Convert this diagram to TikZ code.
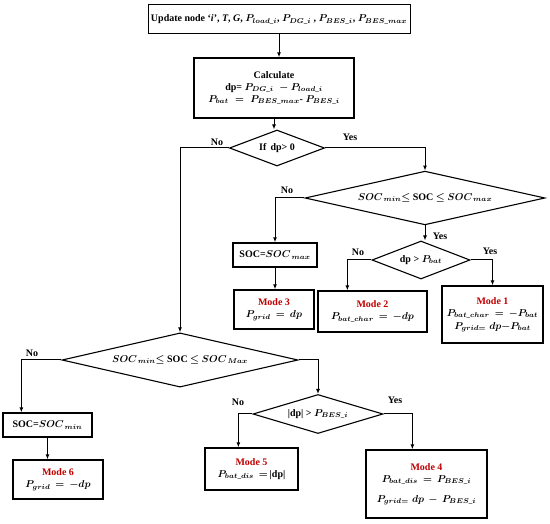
\documentclass[tikz,border=0pt]{standalone}
\usepackage{amsmath,amssymb}
\usepackage{fontspec}
\setmainfont{Liberation Serif}
\usepackage{tikz}
\usetikzlibrary{arrows.meta,positioning,calc,shapes.geometric}
\definecolor{cmode}{RGB}{192,0,0}

\begin{document}
\begin{tikzpicture}[x=1pt,y=-1pt,
    every node/.style={font=\bfseries\fontsize{10}{12}\selectfont\boldmath},
    box/.style={draw, line width=1.3pt, align=center, inner sep=1pt},
    decision/.style={draw, line width=1.1pt, diamond, aspect=3, inner sep=0pt, align=center},
    flow/.style={line width=1pt, -{Latex[length=5pt,width=4pt]}},
    lbl/.style={inner sep=1pt}]
  \useasboundingbox (0,0) rectangle (550,524);

  % top of the chart
  \node[box, line width=1pt, minimum width=262pt, minimum height=29pt] (upd) at (279,19.5)
       {Update node `\textit{i}', \textit{T}, \textit{G}, $P_{load\_i}$, $P_{DG\_i}$ , $P_{BES\_i}$, $P_{BES\_max}$};
  \node[box, minimum width=160pt, minimum height=60pt] (calc) at (274,88)
       {Calculate\\ dp= $P_{DG\_i}\; - P_{load\_i}$\\ $P_{bat}\;=\;P_{BES\_max}$- $P_{BES\_i}$};
  \node[decision, minimum width=95pt, minimum height=36pt] (d1) at (277,148) {If\, dp> 0};

  % charging side
  \node[decision, minimum width=240pt, minimum height=40pt] (d2) at (425,198)
       {$SOC_{\,min}$$\leq$ SOC $\leq$ $SOC_{\,max}$};
  \node[decision, aspect=2.6, minimum width=98pt, minimum height=38pt] (d3) at (421,260) {dp > $P_{bat}$};
  \node[box, minimum width=84pt, minimum height=24pt] (smax) at (275,255) {SOC=$SOC_{\,max}$};
  \node[box, minimum width=80pt, minimum height=39pt] (m3) at (274,309.5)
       {\textcolor{cmode}{Mode 3}\\ $P_{grid}\,=\,dp$};
  \node[box, minimum width=109pt, minimum height=41pt] (m2) at (372.5,311.5)
       {\textcolor{cmode}{Mode 2}\\ $P_{bat\_char}\,=\,-dp$};
  \node[box, minimum width=101pt, minimum height=57pt] (m1) at (492.5,314.5)
       {\textcolor{cmode}{Mode 1}\\ $P_{bat\_char}\,=\,-P_{bat}$\\[1pt] $P_{grid=}\;dp{-}P_{bat}$};

  % discharging side
  \node[decision, minimum width=236pt, minimum height=34pt] (d4) at (180,360)
       {$SOC_{\,min}$$\leq$ SOC $\leq$ $SOC_{\,Max}$};
  \node[decision, aspect=3.2, minimum width=130pt, minimum height=39pt] (d5) at (318,414) {|dp| > $P_{BES\_i}$};
  \node[box, minimum width=89pt, minimum height=24pt] (smin) at (47.5,425) {SOC=$SOC_{\,min}$};
  \node[box, minimum width=90pt, minimum height=39pt] (m6) at (58,479.5)
       {\textcolor{cmode}{Mode 6}\\ $P_{grid}\,=\,-dp$};
  \node[box, minimum width=93pt, minimum height=42pt] (m5) at (251.5,469)
       {\textcolor{cmode}{Mode 5}\\ $P_{bat\_dis}\,=\,$|dp|};
  \node[box, minimum width=121pt, minimum height=68pt] (m4) at (426.5,484)
       {\textcolor{cmode}{Mode 4}\\ $P_{bat\_dis}\,=\,P_{BES\_i}$\\[8pt] $P_{grid=}\;dp\,-\,P_{BES\_i}$};

  % branch points off centre
  \coordinate (m2in) at ($(m2.north west)+(30,0)$);
  \coordinate (sminin) at ($(smin.north west)+(19,0)$);
  \coordinate (m5in) at ($(m5.north west)+(34,0)$);
  \coordinate (m4in) at ($(m4.north west)+(47,0)$);

  % connectors
  \draw[flow] (upd.south) -- (upd.south |- calc.north);
  \draw[flow] (calc.south) -- (calc.south |- d1.north);
  \draw[flow] (d1.west) -| (d4.north);
  \draw[flow] (d1.east) -| (d2.north);
  \draw[flow] (d2.west) -| (smax.north);
  \draw[flow] (d2.south) -- (d2.south |- d3.north);
  \draw[flow] (d3.west) -| (m2in);
  \draw[flow] (d3.east) -| (m1.north);
  \draw[flow] (smax.south) -- (smax.south |- m3.north);
  \draw[flow] (d4.west) -| (sminin);
  \draw[flow] (d4.east) -| (d5.north);
  \draw[flow] (d5.west) -| (m5in);
  \draw[flow] (d5.east) -| (m4in);
  \draw[flow] (smin.south) -- (smin.south |- m6.north);

  % branch labels
  \node[lbl] (no1) at (217,142) {No};
  \node[lbl] (yes1) at (350,137) {Yes};
  \node[lbl] (no2) at (287,190) {No};
  \node[lbl] (yes2) at (440,236) {Yes};
  \node[lbl] (no3) at (358,252) {No};
  \node[lbl] (yes3) at (490,251) {Yes};
  \node[lbl] (no4) at (32,353) {No};
  \node[lbl] (no5) at (238,402) {No};
  \node[lbl] (yes5) at (395,400) {Yes};
\end{tikzpicture}
\end{document}
